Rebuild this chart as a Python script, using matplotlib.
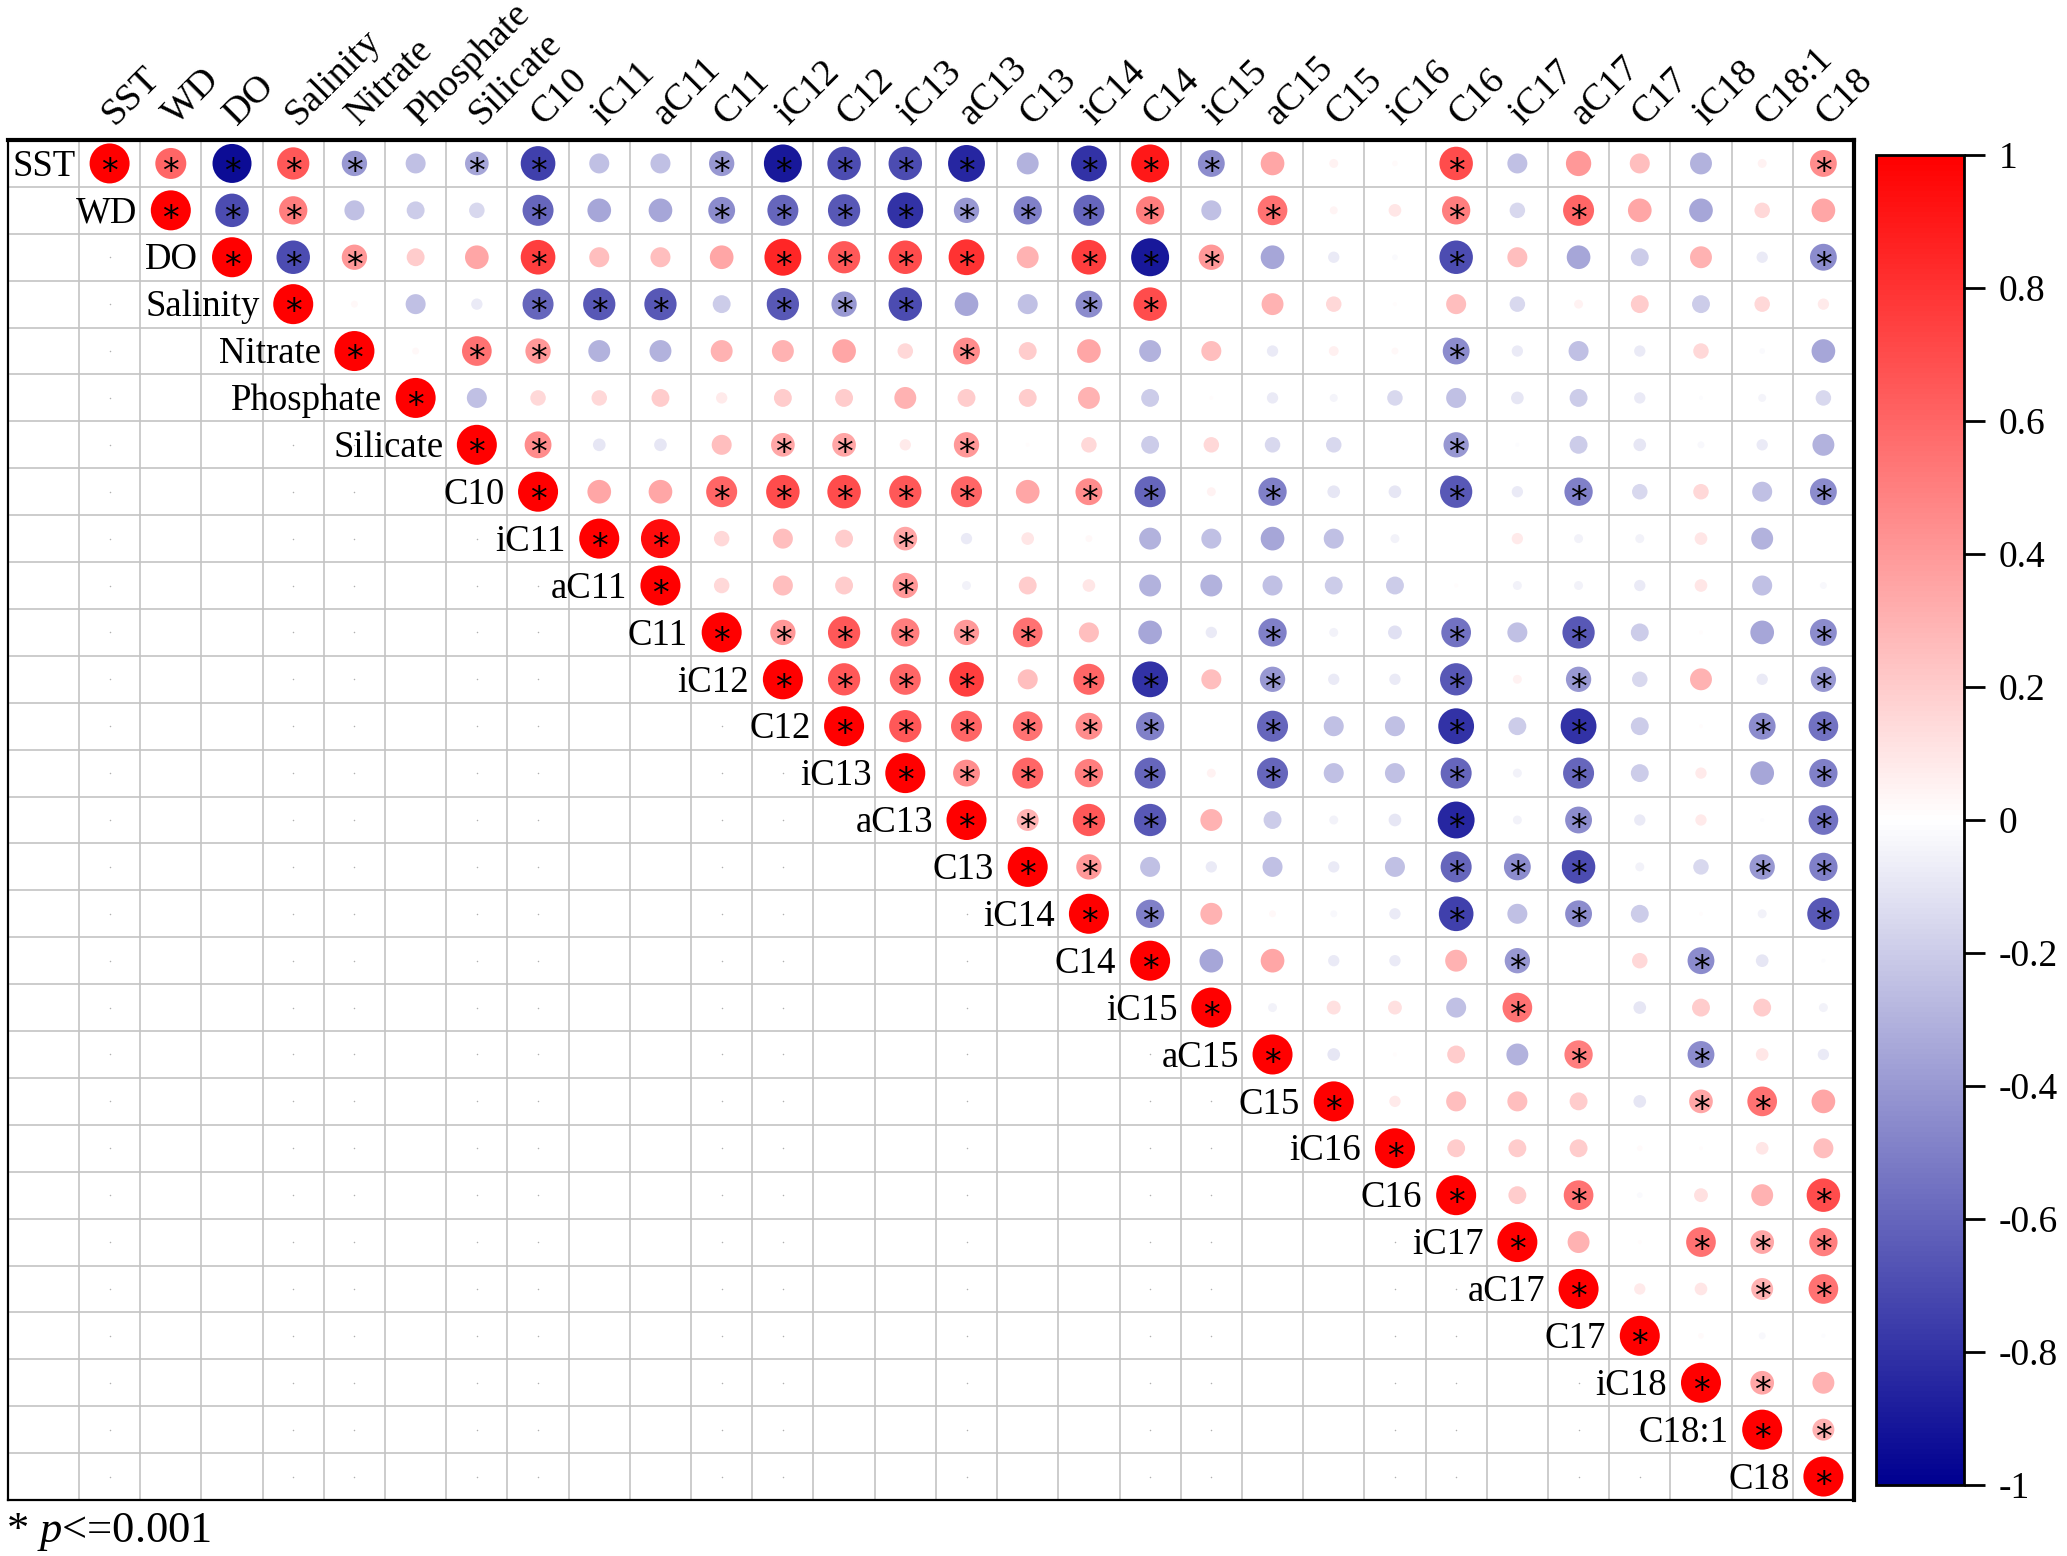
import numpy as np
import matplotlib
matplotlib.use("Agg")
import matplotlib.pyplot as plt
from matplotlib.colors import LinearSegmentedColormap, Normalize
from matplotlib.cm import ScalarMappable
from matplotlib.ticker import FuncFormatter

plt.rcParams['mathtext.fontset'] = 'custom'
plt.rcParams['mathtext.rm'] = 'Liberation Serif'
plt.rcParams['mathtext.it'] = 'Liberation Serif:italic'

variables = ["SST", "WD", "DO", "Salinity", "Nitrate", "Phosphate", "Silicate",
             "C10", "iC11", "aC11", "C11", "iC12", "C12", "iC13", "aC13", "C13",
             "iC14", "C14", "iC15", "aC15", "C15", "iC16", "C16", "iC17", "aC17",
             "C17", "iC18", "C18:1", "C18"]

# upper-triangle correlations, row by row (values for the variables after the row variable)
r_SST = [0.6, -0.95, 0.65, -0.4, -0.25, -0.35, -0.75, -0.25, -0.25, -0.4, -0.9, -0.7, -0.7, -0.85,
         -0.3, -0.8, 0.9, -0.45, 0.35, 0.05, 0.02, 0.7, -0.25, 0.4, 0.25, -0.3, 0.05, 0.45]
r_WD = [-0.7, 0.5, -0.25, -0.2, -0.15, -0.6, -0.35, -0.35, -0.45, -0.6, -0.65, -0.8, -0.4, -0.5,
        -0.6, 0.5, -0.25, 0.55, 0.04, 0.1, 0.5, -0.15, 0.6, 0.35, -0.35, 0.15, 0.35]
r_DO = [-0.7, 0.4, 0.2, 0.35, 0.75, 0.25, 0.25, 0.35, 0.85, 0.65, 0.7, 0.8, 0.3, 0.75, -0.9, 0.4,
        -0.35, -0.08, -0.02, -0.7, 0.25, -0.35, -0.2, 0.3, -0.08, -0.45]
r_Salinity = [0.03, -0.25, -0.08, -0.6, -0.65, -0.65, -0.2, -0.65, -0.4, -0.7, -0.35, -0.25, -0.45,
              0.7, 0.0, 0.3, 0.15, 0.01, 0.25, -0.15, 0.05, 0.2, -0.2, 0.15, 0.08]
r_Nitrate = [0.03, 0.55, 0.4, -0.3, -0.3, 0.3, 0.3, 0.35, 0.15, 0.45, 0.2, 0.35, -0.3, 0.25, -0.08,
             0.06, 0.03, -0.45, -0.08, -0.25, -0.08, 0.15, -0.02, -0.35]
r_Phosphate = [-0.25, 0.15, 0.15, 0.2, 0.08, 0.2, 0.2, 0.3, 0.2, 0.2, 0.3, -0.2, 0.01, -0.08, -0.04,
               -0.15, -0.25, -0.1, -0.2, -0.08, -0.01, -0.04, -0.15]
r_Silicate = [0.45, -0.1, -0.1, 0.25, 0.35, 0.35, 0.08, 0.4, 0.01, 0.15, -0.2, 0.15, -0.15, -0.15,
              0.0, -0.4, -0.01, -0.2, -0.1, -0.03, -0.08, -0.3]
r_C10 = [0.35, 0.35, 0.6, 0.7, 0.7, 0.65, 0.6, 0.35, 0.45, -0.6, 0.05, -0.5, -0.1, -0.1, -0.65,
         -0.08, -0.5, -0.15, 0.15, -0.25, -0.45]
r_iC11 = [0.95, 0.15, 0.25, 0.2, 0.35, -0.08, 0.1, 0.03, -0.3, -0.25, -0.35, -0.25, -0.05, 0.0,
          0.08, -0.05, -0.05, 0.1, -0.3, 0.0]
r_aC11 = [0.15, 0.25, 0.2, 0.4, -0.05, 0.2, 0.1, -0.3, -0.3, -0.25, -0.2, -0.2, 0.01, -0.05, -0.05,
          -0.08, 0.1, -0.25, -0.03]
r_C11 = [0.4, 0.65, 0.5, 0.4, 0.55, 0.25, -0.35, -0.08, -0.5, -0.05, -0.12, -0.55, -0.25, -0.65,
         -0.2, 0.01, -0.35, -0.45]
r_iC12 = [0.65, 0.6, 0.75, 0.25, 0.6, -0.8, 0.25, -0.4, -0.08, -0.08, -0.65, 0.05, -0.4, -0.15,
          0.3, -0.08, -0.4]
r_C12 = [0.65, 0.6, 0.55, 0.45, -0.5, 0.0, -0.6, -0.25, -0.25, -0.8, -0.2, -0.8, -0.2, 0.01,
         -0.45, -0.55]
r_iC13 = [0.45, 0.6, 0.5, -0.6, 0.05, -0.6, -0.25, -0.25, -0.6, -0.05, -0.6, -0.2, 0.08, -0.35, -0.5]
r_aC13 = [0.3, 0.65, -0.65, 0.3, -0.2, -0.05, -0.1, -0.85, -0.05, -0.45, -0.08, 0.08, -0.01, -0.55]
r_C13 = [0.4, -0.25, -0.08, -0.25, -0.08, -0.25, -0.6, -0.45, -0.7, -0.05, -0.15, -0.4, -0.5]
r_iC14 = [-0.5, 0.3, 0.03, -0.03, -0.08, -0.75, -0.25, -0.45, -0.2, 0.01, -0.05, -0.65]
r_C14 = [-0.35, 0.35, -0.08, -0.08, 0.3, -0.4, 0.0, 0.15, -0.45, -0.1, -0.01]
r_iC15 = [-0.05, 0.12, 0.12, -0.25, 0.55, 0.0, -0.1, 0.2, 0.2, -0.05]
r_aC15 = [-0.1, 0.01, 0.2, -0.3, 0.5, 0.0, -0.45, 0.1, -0.08]
r_C15 = [0.08, 0.25, 0.25, 0.2, -0.1, 0.35, 0.55, 0.35]
r_iC16 = [0.2, 0.2, 0.2, 0.02, 0.01, 0.1, 0.25]
r_C16 = [0.2, 0.55, -0.02, 0.12, 0.3, 0.7]
r_iC17 = [0.3, 0.01, 0.55, 0.35, 0.5]
r_aC17 = [0.08, 0.1, 0.3, 0.55]
r_C17 = [0.02, -0.03, -0.01]
r_iC18 = [0.35, 0.3]
r_C18_1 = [0.3]
r_C18 = []

# variables significantly correlated (p<=0.001) with each row variable (upper part only)
sig_SST = ["WD", "DO", "Salinity", "Nitrate", "Silicate", "C10", "C11", "iC12", "C12", "iC13",
           "aC13", "iC14", "C14", "iC15", "C16", "C18"]
sig_WD = ["DO", "Salinity", "C10", "C11", "iC12", "C12", "iC13", "aC13", "C13", "iC14", "C14",
          "aC15", "C16", "aC17"]
sig_DO = ["Salinity", "Nitrate", "C10", "iC12", "C12", "iC13", "aC13", "iC14", "C14", "iC15",
          "C16", "C18"]
sig_Salinity = ["C10", "iC11", "aC11", "iC12", "C12", "iC13", "iC14", "C14"]
sig_Nitrate = ["Silicate", "C10", "aC13", "C16"]
sig_Phosphate = []
sig_Silicate = ["C10", "iC12", "C12", "aC13", "C16"]
sig_C10 = ["C11", "iC12", "C12", "iC13", "aC13", "iC14", "C14", "aC15", "C16", "aC17", "C18"]
sig_iC11 = ["aC11", "iC13"]
sig_aC11 = ["iC13"]
sig_C11 = ["iC12", "C12", "iC13", "aC13", "C13", "aC15", "C16", "aC17", "C18"]
sig_iC12 = ["C12", "iC13", "aC13", "iC14", "C14", "aC15", "C16", "aC17", "C18"]
sig_C12 = ["iC13", "aC13", "C13", "iC14", "C14", "aC15", "C16", "aC17", "C18:1", "C18"]
sig_iC13 = ["aC13", "C13", "iC14", "C14", "aC15", "C16", "aC17", "C18"]
sig_aC13 = ["C13", "iC14", "C14", "C16", "aC17", "C18"]
sig_C13 = ["iC14", "C16", "iC17", "aC17", "C18:1", "C18"]
sig_iC14 = ["C14", "C16", "aC17", "C18"]
sig_C14 = ["iC17", "iC18"]
sig_iC15 = ["iC17"]
sig_aC15 = ["aC17", "iC18"]
sig_C15 = ["iC18", "C18:1"]
sig_iC16 = []
sig_C16 = ["aC17", "C18"]
sig_iC17 = ["iC18", "C18:1", "C18"]
sig_aC17 = ["C18:1", "C18"]
sig_C17 = []
sig_iC18 = ["C18:1"]
sig_C18_1 = ["C18"]
sig_C18 = []

# columns (of the lower triangle) in which faint dots are visible
dot_columns = [1, 4, 5, 7, 8, 11, 12, 15, 18, 19, 22, 23, 25, 26]

cbar_ticks = [1, 0.8, 0.6, 0.4, 0.2, 0, -0.2, -0.4, -0.6, -0.8, -1]
footnote = r"* $\mathit{p}$<=0.001"

rows_r = [r_SST, r_WD, r_DO, r_Salinity, r_Nitrate, r_Phosphate, r_Silicate, r_C10, r_iC11,
          r_aC11, r_C11, r_iC12, r_C12, r_iC13, r_aC13, r_C13, r_iC14, r_C14, r_iC15, r_aC15,
          r_C15, r_iC16, r_C16, r_iC17, r_aC17, r_C17, r_iC18, r_C18_1, r_C18]
rows_sig = [sig_SST, sig_WD, sig_DO, sig_Salinity, sig_Nitrate, sig_Phosphate, sig_Silicate,
            sig_C10, sig_iC11, sig_aC11, sig_C11, sig_iC12, sig_C12, sig_iC13, sig_aC13, sig_C13,
            sig_iC14, sig_C14, sig_iC15, sig_aC15, sig_C15, sig_iC16, sig_C16, sig_iC17, sig_aC17,
            sig_C17, sig_iC18, sig_C18_1, sig_C18]

n = len(variables)
R = np.eye(n)
S = np.eye(n, dtype=bool)
for i in range(n):
    R[i, i + 1:] = rows_r[i]
    for name in rows_sig[i]:
        S[i, variables.index(name)] = True

W, H = 2067, 1556
fig = plt.figure(figsize=(W / 100, H / 100), dpi=100)
serif = "Liberation Serif"

# grid geometry in pixels
left_px, right_px, top_px, bot_px = 8, 1854, 140, 1500
x0 = -0.16
ax = fig.add_axes([left_px / W, 1 - bot_px / H, (right_px - left_px) / W, (bot_px - top_px) / H])
ax.set_xlim(x0, n + 1)
ax.set_ylim(n, 0)
ax.set_xticks([])
ax.set_yticks([])
for side in ["top", "right"]:
    ax.spines[side].set_linewidth(3.0)
for side in ["left", "bottom"]:
    ax.spines[side].set_linewidth(1.6)

grid_col = "#c4c4c4"
for k in range(1, n + 1):
    ax.plot([k, k], [0, n], color=grid_col, lw=1.2, zorder=1)
for r in range(1, n):
    ax.plot([x0, n + 1], [r, r], color=grid_col, lw=1.2, zorder=1)

# faint dots in lower triangle
dx, dy = [], []
for c in dot_columns:
    for r in range(c + 1, n):
        dx.append(c + 0.5)
        dy.append(r + 0.5)
ax.scatter(dx, dy, s=1.2, color="#b0b0b0", zorder=2, linewidths=0)

cmap = LinearSegmentedColormap.from_list("bwr_c", ["#000090", "#FFFFFF", "#FF0000"])
norm = Normalize(-1, 1)

xs, ys, vals = [], [], []
for i in range(n):
    for j in range(i, n):
        xs.append(j + 1.5)
        ys.append(i + 0.5)
        vals.append(R[i, j])
vals = np.array(vals)
ax.scatter(xs, ys, s=830 * np.abs(vals), c=vals, cmap=cmap, norm=norm, linewidths=0, zorder=3)

for i in range(n):
    for j in range(i, n):
        if S[i, j]:
            ax.text(j + 1.5, i + 0.5 + 0.39, "*", ha="center", va="baseline", fontsize=24,
                    family="DejaVu Sans", zorder=4)

for i, name in enumerate(variables):
    ax.text(i + 0.95, i + 0.5 + 0.26, name, ha="right", va="baseline", fontsize=26.5,
            family=serif, zorder=5)
    ax.text(i + 1.5 + 0.08, -0.3, name, ha="left", va="baseline", rotation=45,
            rotation_mode="anchor", fontsize=27.5, family=serif, clip_on=False)

# colour bar
cax = fig.add_axes([1876 / W, 1 - 1485 / H, 88 / W, 1330 / H])
cb = fig.colorbar(ScalarMappable(norm=norm, cmap=cmap), cax=cax, ticks=cbar_ticks)
cb.outline.set_linewidth(2.0)
cb.ax.tick_params(length=15, width=2, pad=10, labelsize=27)
cb.ax.yaxis.set_major_formatter(FuncFormatter(lambda v, p: f"{v:g}"))
for t in cb.ax.get_yticklabels():
    t.set_family(serif)

fig.text(6 / W, 1 - 1542 / H, footnote, ha="left", va="baseline", fontsize=32, family=serif)

fig.savefig("out.png", dpi=100)
